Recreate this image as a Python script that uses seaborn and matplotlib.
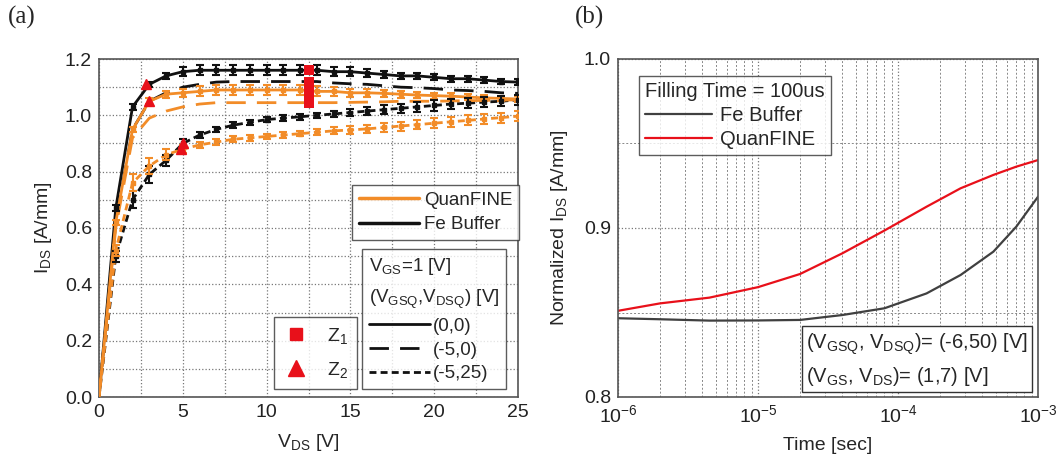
import numpy as np
import pandas as pd
import matplotlib
matplotlib.use("Agg")
import matplotlib.pyplot as plt
import seaborn as sns
from matplotlib.lines import Line2D

sns.set_theme(style="white")
plt.rcParams['font.family'] = ['Liberation Sans', 'DejaVu Sans']
plt.rcParams['mathtext.fontset'] = 'custom'
plt.rcParams['mathtext.rm'] = 'Liberation Sans'
plt.rcParams['mathtext.it'] = 'Liberation Sans'

# ---------------- data (a) ----------------
vds = list(range(0, 26))
fe_00 = [0, 0.67, 1.03, 1.11, 1.14, 1.155, 1.16, 1.16, 1.16, 1.16, 1.16, 1.16, 1.16, 1.16,
         1.155, 1.155, 1.15, 1.145, 1.14, 1.14, 1.135, 1.13, 1.13, 1.125, 1.12, 1.118]
qf_00 = [0, 0.62, 0.95, 1.05, 1.075, 1.08, 1.085, 1.09, 1.09, 1.09, 1.09, 1.09, 1.09, 1.085,
         1.085, 1.08, 1.08, 1.078, 1.075, 1.072, 1.07, 1.068, 1.065, 1.062, 1.06, 1.058]
fe_50 = [0, 0.62, 0.95, 1.05, 1.08, 1.10, 1.11, 1.118, 1.12, 1.12, 1.12, 1.12, 1.12, 1.12,
         1.115, 1.112, 1.11, 1.105, 1.10, 1.098, 1.095, 1.09, 1.088, 1.085, 1.08, 1.078]
qf_50 = [0, 0.60, 0.92, 0.99, 1.015, 1.03, 1.04, 1.045, 1.045, 1.045, 1.045, 1.045, 1.045, 1.045,
         1.045, 1.046, 1.047, 1.048, 1.05, 1.05, 1.05, 1.051, 1.052, 1.053, 1.054, 1.055]
fe_525 = [0, 0.50, 0.70, 0.79, 0.84, 0.90, 0.93, 0.95, 0.965, 0.975, 0.985, 0.99, 0.995, 1.0,
          1.005, 1.01, 1.015, 1.02, 1.025, 1.03, 1.035, 1.04, 1.043, 1.047, 1.05, 1.055]
qf_525 = [0, 0.52, 0.76, 0.82, 0.86, 0.88, 0.895, 0.905, 0.915, 0.92, 0.925, 0.93, 0.935, 0.94,
          0.945, 0.948, 0.952, 0.957, 0.962, 0.967, 0.972, 0.977, 0.982, 0.987, 0.992, 0.997]
err_00 = [0, 0.01, 0.01, 0.01, 0.012, 0.015, 0.018, 0.018, 0.018, 0.018, 0.018, 0.018, 0.018, 0.018,
          0.016, 0.015, 0.014, 0.013, 0.012, 0.012, 0.011, 0.011, 0.01, 0.01, 0.01, 0.01]
err_525 = [0, 0.02, 0.03, 0.03, 0.02, 0.015, 0.012, 0.01, 0.01, 0.01, 0.01, 0.01, 0.01, 0.01,
           0.012, 0.013, 0.014, 0.015, 0.016, 0.017, 0.018, 0.018, 0.018, 0.018, 0.018, 0.018]

z1_x = [12.5, 12.5, 12.5, 12.5, 12.5]
z1_y = [1.16, 1.12, 1.095, 1.07, 1.045]
z2_x = [2.8, 3.0, 5.0, 4.9]
z2_y = [1.11, 1.05, 0.90, 0.88]

# ---------------- data (b) ----------------
t = [1e-6, 2e-6, 4.5e-6, 1e-5, 2e-5, 4e-5, 8e-5, 1.6e-4, 2.8e-4, 4.8e-4, 7e-4, 1e-3]
fe_norm = [0.8466, 0.846, 0.8452, 0.8453, 0.8456, 0.8485, 0.8525, 0.8613, 0.8722, 0.886, 0.9008, 0.9185]
qf_norm = [0.851, 0.8554, 0.8588, 0.865, 0.8728, 0.885, 0.8985, 0.9126, 0.9235, 0.9314, 0.9363, 0.9402]

ORANGE = '#F28C28'
BLACK = '#111111'
RED = '#E8101A'
GRAY = '#404040'
FS = 14
LFS = 13.5

fig = plt.figure(figsize=(10.58, 4.65), dpi=100)
axa = fig.add_axes([99/1058, 1-397/465, 419/1058, 338/465])
axb = fig.add_axes([618/1058, 1-397/465, 420/1058, 338/465])

rows = []
for ys, dev, style in [(fe_00, 'Fe Buffer', '00'), (qf_00, 'QuanFINE', '00'),
                       (fe_50, 'Fe Buffer', '50'), (qf_50, 'QuanFINE', '50'),
                       (fe_525, 'Fe Buffer', '525'), (qf_525, 'QuanFINE', '525')]:
    for x, y in zip(vds, ys):
        rows.append(dict(vds=x, ids=y, dev=dev, cond=style))
df = pd.DataFrame(rows)

dash_map = {'00': '', '50': (7, 4), '525': (2.5, 1.5)}
sns.lineplot(data=df, x='vds', y='ids', hue='dev', style='cond',
             palette={'Fe Buffer': BLACK, 'QuanFINE': ORANGE},
             dashes=dash_map, linewidth=2, ax=axa, legend=False, zorder=3)

for ys, err, col in [(fe_00, err_00, BLACK), (qf_00, err_00, ORANGE),
                     (fe_525, err_525, BLACK), (qf_525, err_525, ORANGE)]:
    axa.errorbar(vds[1:], ys[1:], yerr=err[1:], fmt='none', ecolor=col,
                 elinewidth=1.5, capsize=3, capthick=1.5, zorder=4)
    axa.plot(vds[1:], ys[1:], 's', color=col, ms=3, zorder=4)

axa.plot(z1_x, z1_y, 's', color=RED, ms=6.5, mew=0, zorder=6)
axa.plot(z2_x, z2_y, '^', color=RED, ms=7, zorder=6)

axa.set_xlim(0, 25)
axa.set_ylim(0, 1.2)
axa.set_xticks([0, 5, 10, 15, 20, 25])
axa.set_xticks(np.arange(0, 25.1, 2.5), minor=True)
axa.set_yticks(np.arange(0, 1.21, 0.2))
axa.set_yticks(np.arange(0, 1.21, 0.1), minor=True)
axa.set_yticklabels([f'{v:.1f}' for v in np.arange(0, 1.21, 0.2)])
axa.grid(True, which='both', color='#777777', ls=':', lw=0.9)
axa.tick_params(direction='in', length=4, labelsize=FS, which='both', colors='#222222', pad=5)
axa.set_xlabel('V$_{\\mathrm{DS}}$ [V]', fontsize=FS, labelpad=8)
axa.set_ylabel('I$_{\\mathrm{DS}}$ [A/mm]', fontsize=FS, labelpad=8)

common = dict(frameon=True, fancybox=False, edgecolor='#333333', borderaxespad=0)

# legends in (a)
h1 = [Line2D([], [], color=ORANGE, lw=2.5), Line2D([], [], color=BLACK, lw=2.5)]
leg1 = axa.legend(h1, ['QuanFINE', 'Fe Buffer'], loc='upper left',
                  bbox_to_anchor=((352-99)/419, (397-185)/338), fontsize=LFS,
                  handlelength=3.2, borderpad=0.35, labelspacing=0.4, handletextpad=0.3, **common)
leg1.get_frame().set_linewidth(1.0)
axa.add_artist(leg1)

h2 = [Line2D([], [], color=BLACK, lw=2), Line2D([], [], color=BLACK, lw=2, dashes=(7, 4)),
      Line2D([], [], color=BLACK, lw=2, dashes=(2.5, 1.5))]
leg2 = axa.legend(h2, ['(0,0)', '(-5,0)', '(-5,25)'],
                  title='V$_{\\mathrm{GS}}$=1 [V]\n(V$_{\\mathrm{GSQ}}$,V$_{\\mathrm{DSQ}}$) [V]',
                  title_fontsize=LFS, alignment='left',
                  loc='upper left', bbox_to_anchor=((362-99)/419, (397-249)/338), fontsize=LFS,
                  handlelength=3.3, borderpad=0.35, labelspacing=0.35, handletextpad=0.15, **common)
leg2.get_title().set_linespacing(1.75)
leg2.get_frame().set_linewidth(1.0)
axa.add_artist(leg2)

h3 = [Line2D([], [], color=RED, marker='s', ls='none', ms=9),
      Line2D([], [], color=RED, marker='^', ls='none', ms=11)]
leg3 = axa.legend(h3, ['Z$_{1}$', 'Z$_{2}$'], loc='lower left',
                  bbox_to_anchor=((274-99)/419, (397-389)/338), fontsize=LFS + 0.5,
                  handlelength=1.4, borderpad=0.45, labelspacing=0.75, handletextpad=0.9, **common)
leg3.get_frame().set_linewidth(1.0)

# ---------------- (b) ----------------
dfb = pd.DataFrame({'t': t * 2, 'v': fe_norm + qf_norm,
                    'dev': ['Fe Buffer'] * len(t) + ['QuanFINE'] * len(t)})
sns.lineplot(data=dfb, x='t', y='v', hue='dev', palette={'Fe Buffer': GRAY, 'QuanFINE': RED},
             lw=1.6, ax=axb, legend=False)
axb.set_xscale('log')
axb.set_xlim(1e-6, 1e-3)
axb.set_ylim(0.8, 1.0)
axb.set_yticks([0.8, 0.9, 1.0])
axb.set_yticks([0.85, 0.95], minor=True)
axb.set_yticklabels(['0.8', '0.9', '1.0'])
axb.grid(True, which='major', color='#777777', ls=':', lw=0.9)
axb.grid(True, which='minor', color='#888888', ls=(0, (2, 2)), lw=0.7)
axb.tick_params(direction='in', length=4, labelsize=FS, which='both', colors='#222222', pad=5)
axb.set_xlabel('Time [sec]', fontsize=FS, labelpad=8)
axb.set_ylabel('Normalized I$_{\\mathrm{DS}}$ [A/mm]', fontsize=FS, labelpad=10)

RFS = 14.5
hb = [Line2D([], [], color=GRAY, lw=1.6), Line2D([], [], color=RED, lw=1.6)]
legb = axb.legend(hb, ['Fe Buffer', 'QuanFINE'], title='Filling Time = 100us',
                  title_fontsize=RFS, alignment='left', loc='upper left',
                  bbox_to_anchor=((639-618)/420, (397-76)/338), fontsize=RFS,
                  handlelength=3.3, borderpad=0.3, labelspacing=0.25, handletextpad=0.4, **common)
legb.get_frame().set_linewidth(1.0)

axb.text((806-618)/420, (397-360)/338,
         '(V$_{\\mathrm{GSQ}}$, V$_{\\mathrm{DSQ}}$)= (-6,50) [V]\n(V$_{\\mathrm{GS}}$, V$_{\\mathrm{DS}}$)= (1,7) [V]',
         transform=axb.transAxes, fontsize=RFS, va='center', ha='left', linespacing=1.45,
         bbox=dict(boxstyle='square,pad=0.2', fc='white', ec='#333333', lw=1.0))

for ax in (axa, axb):
    for s in ax.spines.values():
        s.set_color('#555555')
        s.set_linewidth(1.2)

fig.text(8/1058, 1-17/465, '(a)', fontsize=18, family='Liberation Serif', va='center')
fig.text(575/1058, 1-17/465, '(b)', fontsize=18, family='Liberation Serif', va='center')

fig.savefig('out.png', dpi=100, facecolor='white')
